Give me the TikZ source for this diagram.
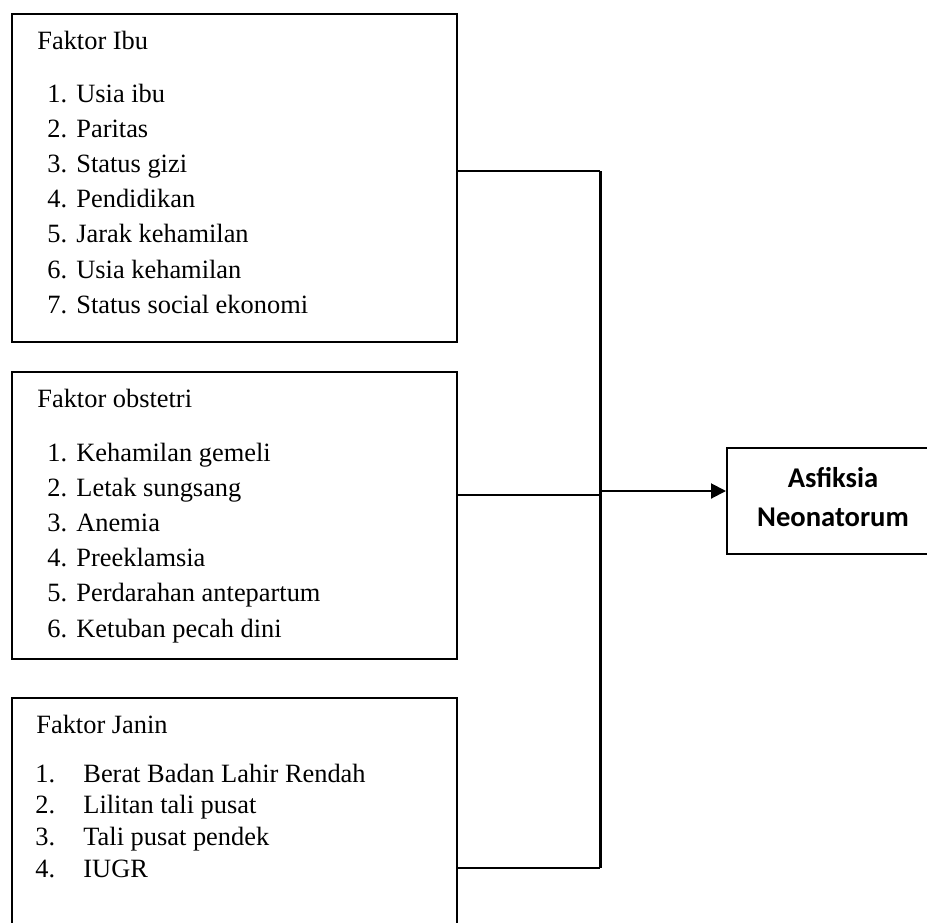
\documentclass[tikz,border=0pt]{standalone}
\usepackage{fontspec}
\setmainfont{Liberation Serif}
\newfontfamily\calibrifont{Carlito}
\usetikzlibrary{arrows.meta}
\begin{document}
\begin{tikzpicture}[x=0.5pt,y=-0.5pt,
  box/.style={draw,line width=1pt,inner sep=0pt,minimum width=222.5pt},
  txt/.style={anchor=base west,inner sep=0pt,font=\fontsize{13.2}{15}\selectfont},
  outtxt/.style={anchor=base,inner sep=0pt,font=\calibrifont\bfseries\fontsize{14.3}{17}\selectfont},
  conn/.style={line width=1pt},
  spine/.style={line width=1.5pt}]
\useasboundingbox (0,0) rectangle (927,922);

% boxes
\node[box,minimum height=164pt] (b1) at (234.5,178) {};
\node[box,minimum height=143.5pt] (b2) at (234.5,515.5) {};
\node[box,minimum height=121pt] (b3) at (234.5,819) {};
\node[draw,line width=1pt,inner sep=0pt,minimum width=106pt,minimum height=53pt] (out) at (833,501) {};

% box 1 text
\node[txt] (h1) at (37,49) {Faktor Ibu};
\foreach \n/\t [count=\i from 0] in {1/Usia ibu,2/Paritas,3/Status gizi,4/Pendidikan,5/Jarak kehamilan,6/Usia kehamilan,7/Status social ekonomi}{
  \node[txt] (n1\n) at (47,{102+35.2*\i}) {\n.};
  \node[txt] (t1\n) at (76,{102+35.2*\i}) {\t};
}

% box 2 text
\node[txt] (h2) at (37,407) {Faktor obstetri};
\foreach \n/\t [count=\i from 0] in {1/Kehamilan gemeli,2/Letak sungsang,3/Anemia,4/Preeklamsia,5/Perdarahan antepartum,6/Ketuban pecah dini}{
  \node[txt] (n2\n) at (47,{461+35.2*\i}) {\n.};
  \node[txt] (t2\n) at (76,{461+35.2*\i}) {\t};
}

% box 3 text
\node[txt] (h3) at (36,733) {Faktor Janin};
\foreach \n/\t [count=\i from 0] in {1/Berat Badan Lahir Rendah,2/Lilitan tali pusat,3/Tali pusat pendek,4/IUGR}{
  \node[txt] (n3\n) at (35,{782+31.8*\i}) {\n.};
  \node[txt] (t3\n) at (83,{782+31.8*\i}) {\t};
}

% output text
\node[outtxt] (o1) at (833,487) {Asfiksia};
\node[outtxt] (o2) at (833,526) {Neonatorum};

% connectors
\coordinate (j1) at (600,171);
\coordinate (j2) at (600,495);
\coordinate (j3) at (600,868);
\coordinate (jm) at (600,491);
\draw[conn] (b1.east |- j1) -- (j1);
\draw[conn] (b2.east |- j2) -- (j2);
\draw[conn] (b3.east |- j3) -- (j3);
\draw[spine] (j1) -- (j3);
\draw[conn,-{Triangle[length=7.5pt,width=7.5pt]}] (jm) -- (out.west |- jm);
\end{tikzpicture}
\end{document}
